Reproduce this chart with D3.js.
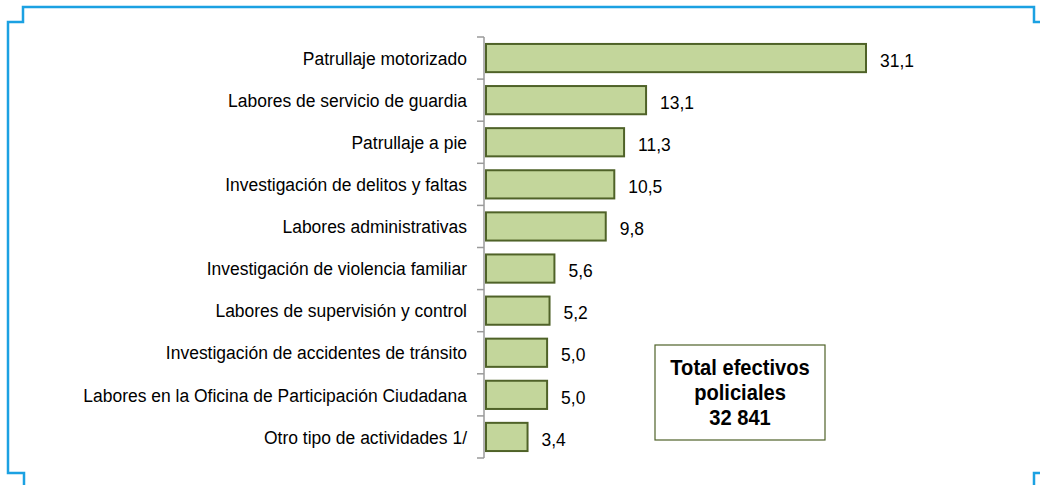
<!DOCTYPE html>
<html>
<head>
<meta charset="utf-8">
<script src="https://cdn.jsdelivr.net/npm/d3@7"></script>
<style>
  body { margin: 0; background: #fff; }
  svg { display: block; }
  text { font-family: "Liberation Sans Narrow", "Arial Narrow", "Liberation Sans", Arial, sans-serif; }
</style>
</head>
<body>
<div class="chart"></div>
<script>
const categories = [
    'Patrullaje motorizado',
    'Labores de servicio de guardia',
    'Patrullaje a pie',
    'Investigación de delitos y faltas',
    'Labores administrativas',
    'Investigación de violencia familiar',
    'Labores de supervisión y control',
    'Investigación de accidentes de tránsito',
    'Labores en la Oficina de Participación Ciudadana',
    'Otro tipo de actividades 1/'
];
const values = [31.1, 13.1, 11.3, 10.5, 9.8, 5.6, 5.2, 5.0, 5.0, 3.4];
const boxLines = ['Total efectivos', 'policiales', '32 841'];

const width = 1040;
const height = 485;
const axisX = 485;
const axisTop = 37;
const axisBottom = 458;
const narrow = 0.92;   // squeeze regular sans to look like a narrow face

buildChart();

function buildChart() {

    const svg = d3.select('.chart')
        .append('svg')
        .attr('width', width)
        .attr('height', height);

    // blue frame with stepped corners
    const frame = '#1ba1e2';
    svg.append('path')
        .attr('d', 'M1040,22 H1034 V7 H23 V22 H8 V473 H24 V485')
        .attr('fill', 'none')
        .attr('stroke', frame)
        .attr('stroke-width', 2.5);
    svg.append('path')
        .attr('d', 'M1040,473 H1034 V485')
        .attr('fill', 'none')
        .attr('stroke', frame)
        .attr('stroke-width', 2.5);

    const x = d3.scaleLinear()
        .domain([0, 31.1])
        .range([axisX, 865]);

    const y = d3.scaleBand()
        .domain(categories)
        .range([axisTop, axisBottom])
        .paddingInner(0.33)
        .paddingOuter(0.165);

    const step = y.step();

    // category axis line and boundary ticks
    const g = svg.append('g');
    g.append('line')
        .attr('x1', axisX - 1).attr('x2', axisX - 1)
        .attr('y1', axisTop).attr('y2', axisBottom)
        .attr('stroke', '#9a9a9a')
        .attr('stroke-width', 1.5);
    g.selectAll('.tick')
        .data(d3.range(categories.length + 1))
        .enter()
        .append('line')
        .attr('x1', axisX - 8).attr('x2', axisX - 1)
        .attr('y1', (i) => axisTop + i * step)
        .attr('y2', (i) => axisTop + i * step)
        .attr('stroke', '#9a9a9a')
        .attr('stroke-width', 1.5);

    g.selectAll('.cat')
        .data(categories)
        .enter()
        .append('text')
        .attr('transform', (d) => `translate(${axisX - 18}, ${y(d) + y.bandwidth() / 2}) scale(${narrow}, 1)`)
        .attr('dy', '0.35em')
        .attr('text-anchor', 'end')
        .attr('font-size', 19)
        .attr('fill', '#000')
        .text((d) => d);

    svg.selectAll('.bar')
        .data(values)
        .enter()
        .append('rect')
        .attr('x', x(0) + 1)
        .attr('y', (d, i) => y(categories[i]))
        .attr('width', (d) => x(d) - x(0))
        .attr('height', y.bandwidth())
        .attr('fill', '#c3d69b')
        .attr('stroke', '#4f6228')
        .attr('stroke-width', 2);

    svg.selectAll('.val')
        .data(values)
        .enter()
        .append('text')
        .attr('transform', (d, i) => `translate(${x(d) + 15}, ${y(categories[i]) + y.bandwidth() / 2 + 2}) scale(${narrow}, 1)`)
        .attr('dy', '0.35em')
        .attr('font-size', 19)
        .attr('fill', '#000')
        .text((d) => d.toFixed(1).replace('.', ','));

    // total box
    const box = svg.append('g').attr('transform', 'translate(655, 345)');
    box.append('rect')
        .attr('width', 170)
        .attr('height', 95)
        .attr('fill', '#fff')
        .attr('stroke', '#4f6228')
        .attr('stroke-width', 1.2);
    box.selectAll('text')
        .data(boxLines)
        .enter()
        .append('text')
        .attr('transform', (d, i) => `translate(85, ${30 + i * 25}) scale(0.915, 1)`)
        .attr('text-anchor', 'middle')
        .attr('font-size', 22)
        .attr('font-weight', 'bold')
        .attr('fill', '#000')
        .text((d) => d);
}
</script>
</body>
</html>
